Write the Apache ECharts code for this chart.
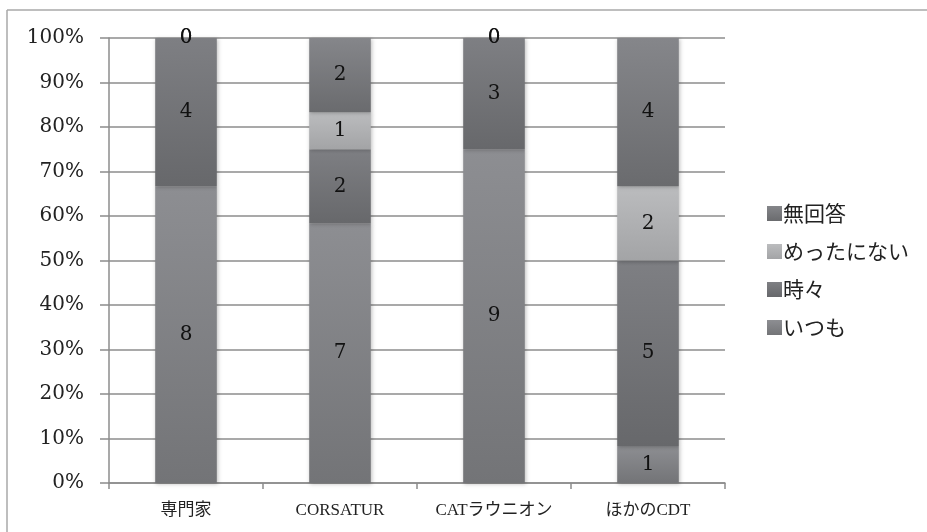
<!DOCTYPE html>
<html>
<head>
<meta charset="utf-8">
<script src="https://cdn.jsdelivr.net/npm/echarts@6/dist/echarts.min.js"></script>
<style>
  html, body { margin: 0; padding: 0; background: #fff; }
  #chart { width: 927px; height: 532px; }
</style>
</head>
<body>
<div id="chart"></div>
<script>
// Response counts per group
const categories = ['専門家', 'CORSATUR', 'CATラウニオン', 'ほかのCDT'];
const always    = [8, 7, 9, 1];   // いつも
const sometimes = [4, 2, 3, 5];   // 時々
const rarely    = [0, 1, 0, 2];   // めったにない
const noAnswer  = [0, 2, 0, 4];   // 無回答
const yTicks = ['0%', '10%', '20%', '30%', '40%', '50%', '60%', '70%', '80%', '90%', '100%'];

const totals = categories.map((_, i) => always[i] + sometimes[i] + rarely[i] + noAnswer[i]);

const serif = '"DejaVu Serif", "Liberation Serif", "Noto Sans CJK JP", serif';
const serifNarrow = '"Liberation Serif", "DejaVu Serif", "Noto Sans CJK JP", serif';

function grad(top, bottom) {
  return new echarts.graphic.LinearGradient(0, 0, 0, 1, [
    { offset: 0, color: top },
    { offset: 1, color: bottom }
  ]);
}

function makeSeries(name, counts, top, bottom) {
  return {
    name: name,
    type: 'bar',
    stack: 'total',
    barWidth: '40%',
    data: counts.map((c, i) => ({ value: c / totals[i] * 100, count: c })),
    itemStyle: {
      color: grad(top, bottom),
      shadowBlur: 4,
      shadowColor: 'rgba(0,0,0,0.25)',
      shadowOffsetX: 1,
      shadowOffsetY: 1
    },
    label: {
      show: true,
      position: 'inside',
      formatter: p => String(p.data.count),
      fontFamily: serif,
      fontSize: 20,
      color: '#111'
    },
    emphasis: { disabled: true }
  };
}

const chart = echarts.init(document.getElementById('chart'), null, { renderer: 'canvas' });

chart.setOption({
  animation: false,
  backgroundColor: '#ffffff',
  graphic: [
    { type: 'line', shape: { x1: 7, y1: 10, x2: 927, y2: 10 }, style: { stroke: '#a8a8a8', lineWidth: 1.5 } },
    { type: 'line', shape: { x1: 7, y1: 10, x2: 7, y2: 532 }, style: { stroke: '#a8a8a8', lineWidth: 1.5 } }
  ],
  grid: { left: 109, right: 202, top: 38, bottom: 49 },
  legend: {
    orient: 'vertical',
    left: 762,
    top: 198,
    itemWidth: 15,
    itemHeight: 15,
    itemGap: 17,
    icon: 'rect',
    data: ['無回答', 'めったにない', '時々', 'いつも'],
    textStyle: { fontFamily: '"Noto Sans CJK JP", sans-serif', fontSize: 21, color: '#222', padding: [0, 0, 0, -4] }
  },
  xAxis: {
    type: 'category',
    data: categories,
    axisLine: { lineStyle: { color: '#8c8c8c', width: 1.5 } },
    axisTick: { show: true, length: 6, lineStyle: { color: '#8c8c8c', width: 1.5 } },
    axisLabel: { fontFamily: serifNarrow, fontSize: 17, color: '#222', margin: 19 }
  },
  yAxis: {
    type: 'value',
    min: 0,
    max: 100,
    interval: 10,
    axisLine: { show: true, lineStyle: { color: '#8c8c8c', width: 1.5 } },
    axisTick: { show: true, length: 9, lineStyle: { color: '#8c8c8c', width: 1.5 } },
    splitLine: { lineStyle: { color: '#8c8c8c', width: 1.5 } },
    axisLabel: {
      fontFamily: serif,
      fontSize: 20,
      color: '#222',
      margin: 25,
      formatter: v => yTicks[Math.round(v / 10)]
    }
  },
  series: [
    makeSeries('いつも', always, '#8d8e92', '#737477'),
    makeSeries('時々', sometimes, '#7e7f83', '#67686b'),
    makeSeries('めったにない', rarely, '#bbbcbe', '#a3a4a6'),
    makeSeries('無回答', noAnswer, '#85868a', '#6a6b6e')
  ]
});
</script>
</body>
</html>
